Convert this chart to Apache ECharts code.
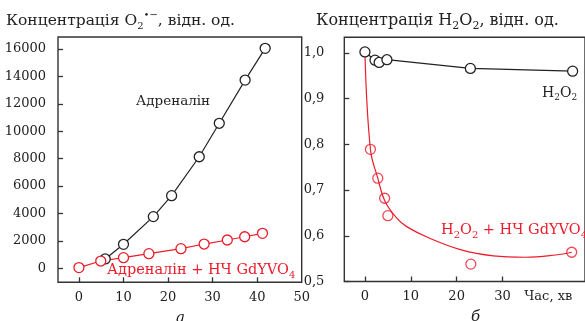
<!DOCTYPE html>
<html>
<head>
<meta charset="utf-8">
<script src="https://cdn.jsdelivr.net/npm/echarts@6/dist/echarts.min.js"></script>
<style>
  html, body { margin: 0; padding: 0; background: #fff; }
  #chart { width: 585px; height: 321px; }
</style>
</head>
<body>
<div id="chart"></div>
<script>
// а: супероксид, час (хв) -> концентрація
var adrTime = [5.9, 10, 16.7, 20.8, 27, 31.5, 37.3, 41.8];
var adrConc = [680, 1750, 3770, 5300, 8140, 10580, 13730, 16050];
var adrNpTime = [0, 4.9, 10, 15.7, 22.9, 28.1, 33.3, 37.2, 41.2];
var adrNpConc = [50, 530, 775, 1065, 1430, 1770, 2065, 2300, 2550];
var leftYTicks = [0, 2000, 4000, 6000, 8000, 10000, 12000, 14000, 16000];
var leftXTicks = [0, 10, 20, 30, 40, 50];

// б: H2O2
var h2o2Time = [0, 2.2, 3.1, 4.8, 23, 45.3];
var h2o2Conc = [1.002, 0.984, 0.979, 0.985, 0.966, 0.960];
var h2o2NpTime = [1.2, 2.8, 4.3, 5, 23.1, 45.1];
var h2o2NpConc = [0.789, 0.726, 0.682, 0.644, 0.538, 0.564];
// апроксимуюча крива
var fitTime = [0, 1.2, 2.8, 4.4, 7, 9.1, 14, 21, 28, 35, 41.6, 45.1];
var fitConc = [1.0, 0.789, 0.726, 0.675, 0.638, 0.620, 0.595, 0.569, 0.556, 0.553, 0.558, 0.564];
var rightYTicks = [0.5, 0.6, 0.7, 0.8, 0.9, 1.0];
var rightXTicks = [0, 10, 20, 30, 40];

function zip(a, b) {
  return a.map(function (v, i) { return [v, b[i]]; });
}

var RED = "#ec1c2a";
var INK = "#222";
var SERIF = "DejaVu Serif";

var myChart = echarts.init(document.getElementById("chart"));

function yAxisCfg(idx, min, max, ticks, fmt, margin) {
  return {
    type: "value", gridIndex: idx, min: min, max: max,
    splitLine: { show: false },
    axisLine: { show: false, onZero: false },
    axisTick: { inside: true, length: 5, customValues: ticks, lineStyle: { color: "#333", width: 1.3 } },
    axisLabel: { customValues: ticks, formatter: fmt, margin: margin, color: INK, fontFamily: SERIF, fontSize: 13 }
  };
}
function xAxisCfg(idx, min, max, ticks, tickMarks, fmt) {
  return {
    type: "value", gridIndex: idx, min: min, max: max,
    splitLine: { show: false },
    axisLine: { show: false, onZero: false },
    axisTick: { inside: true, length: 5, customValues: tickMarks, lineStyle: { color: "#333", width: 1.3 } },
    axisLabel: { customValues: ticks, formatter: fmt, margin: 9, color: INK, fontFamily: SERIF, fontSize: 13 }
  };
}

var circle = function (color) {
  return {
    symbol: "circle", symbolSize: 10,
    itemStyle: { color: "#fff", borderColor: color, borderWidth: 1.3 },
    lineStyle: { color: color, width: 1.2 }
  };
};

function richFor(color, size) {
  var s = Math.round(size * 0.66);
  return {
    sub: { fontFamily: SERIF, fontSize: s, lineHeight: s, verticalAlign: "bottom", fill: color },
    sup: { fontFamily: SERIF, fontSize: s, lineHeight: s, verticalAlign: "top", fill: color }
  };
}
function label(x, y, text, color, size, extra) {
  var s = { x: x, y: y, text: text, fill: color, font: size + "px '" + SERIF + "'",
    lineHeight: Math.round(size * 1.35), verticalAlign: "middle", rich: richFor(color, size) };
  if (extra) for (var k in extra) s[k] = extra[k];
  return { type: "text", z: 10, style: s };
}

var option = {
  animation: false,
  backgroundColor: "#fff",
  grid: [
    { left: 58, top: 37, width: 243.7, height: 245.3, show: true, borderColor: "#333", borderWidth: 1.4, backgroundColor: "transparent" },
    { left: 344.3, top: 37.3, width: 253.1, height: 244.2, show: true, borderColor: "#333", borderWidth: 1.4, backgroundColor: "transparent" }
  ],
  xAxis: [
    xAxisCfg(0, -4.7, 50, leftXTicks, leftXTicks.slice(0, 5), function (v) { return String(v); }),
    xAxisCfg(1, -4.5, 48, rightXTicks, rightXTicks.slice(0, 4), function (v) { return v === 40 ? "Час, хв" : String(v); })
  ],
  yAxis: [
    yAxisCfg(0, -1022, 16876, leftYTicks, function (v) { return String(v); }, 12),
    yAxisCfg(1, 0.5, 1.034, rightYTicks, function (v) { return v.toFixed(1).replace(".", ","); }, 20)
  ],
  series: [
    Object.assign({ type: "line", xAxisIndex: 0, yAxisIndex: 0, data: zip(adrTime, adrConc) }, circle(INK)),
    Object.assign({ type: "line", xAxisIndex: 0, yAxisIndex: 0, data: zip(adrNpTime, adrNpConc) }, circle(RED)),
    {
      type: "line", xAxisIndex: 1, yAxisIndex: 1, data: zip(fitTime, fitConc),
      smooth: 0.4, showSymbol: false, lineStyle: { color: RED, width: 1.2 }
    },
    Object.assign({ type: "scatter", xAxisIndex: 1, yAxisIndex: 1, data: zip(h2o2NpTime, h2o2NpConc) }, circle(RED)),
    Object.assign({ type: "line", xAxisIndex: 1, yAxisIndex: 1, data: zip(h2o2Time, h2o2Conc) }, circle(INK))
  ],
  graphic: [
    label(6, 21, "Концентрація O{sub|2}{sup|•−}, відн. од.", INK, 15.5),
    label(316, 21, "Концентрація H{sub|2}O{sub|2}, відн. од.", INK, 16),
    label(136, 101, "Адреналін", INK, 13.5),
    label(107, 270, "Адреналін + НЧ GdYVO{sub|4}", RED, 14.5),
    label(542, 93, "H{sub|2}O{sub|2}", INK, 14),
    label(441, 230, "H{sub|2}O{sub|2} + НЧ GdYVO{sub|4}", RED, 14.5),
    label(176, 318, "а", INK, 15, { font: "italic 15px '" + SERIF + "'" }),
    label(471, 317, "б", INK, 15, { font: "italic 15px '" + SERIF + "'" })
  ]
};

myChart.setOption(option);
window.addEventListener("resize", function () {
  myChart.resize();
});
</script>
</body>
</html>
